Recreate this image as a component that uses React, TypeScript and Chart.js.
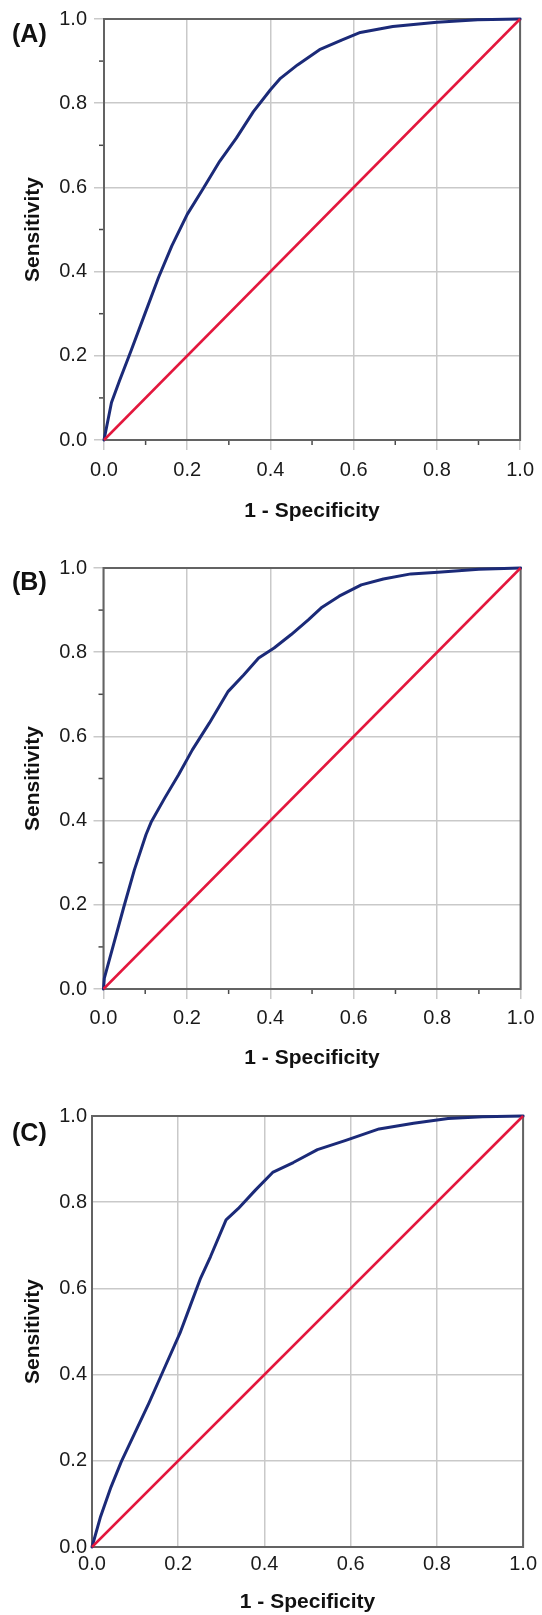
import React, { useEffect, useRef } from "react";
import { Chart, registerables } from "chart.js";

Chart.register(...registerables);

// ---------- Data ----------
const panelLabels = ["(A)", "(B)", "(C)"];
const xAxisTitle = "1 - Specificity";
const yAxisTitle = "Sensitivity";
const tickValues = [0, 0.2, 0.4, 0.6, 0.8, 1.0];
const minorTickValues = [0.1, 0.3, 0.5, 0.7, 0.9];

// chance (reference) line
const referenceX = [0, 1];
const referenceY = [0, 1];

// Panel A ROC curve
const fprA = [0, 0.018, 0.037, 0.065, 0.098, 0.131, 0.163, 0.2, 0.237, 0.278, 0.318, 0.359, 0.4, 0.424, 0.465, 0.518, 0.571, 0.616, 0.694, 0.8, 0.898, 1];
const tprA = [0, 0.089, 0.14, 0.212, 0.299, 0.386, 0.461, 0.536, 0.595, 0.662, 0.717, 0.78, 0.832, 0.859, 0.891, 0.927, 0.95, 0.968, 0.982, 0.992, 0.998, 1];

// Panel B ROC curve
const fprB = [0, 0.002, 0.025, 0.049, 0.074, 0.102, 0.115, 0.147, 0.18, 0.213, 0.254, 0.299, 0.336, 0.372, 0.409, 0.45, 0.491, 0.524, 0.565, 0.618, 0.671, 0.737, 0.802, 0.9, 1];
const tprB = [0, 0.026, 0.109, 0.196, 0.283, 0.367, 0.398, 0.454, 0.509, 0.568, 0.632, 0.707, 0.746, 0.786, 0.81, 0.842, 0.877, 0.907, 0.933, 0.96, 0.974, 0.986, 0.99, 0.997, 1];

// Panel C ROC curve
const fprC = [0, 0.02, 0.044, 0.068, 0.1, 0.132, 0.164, 0.204, 0.228, 0.252, 0.275, 0.311, 0.339, 0.379, 0.419, 0.467, 0.523, 0.587, 0.666, 0.746, 0.826, 0.906, 1];
const tprC = [0, 0.071, 0.139, 0.198, 0.266, 0.334, 0.406, 0.496, 0.56, 0.624, 0.674, 0.759, 0.785, 0.828, 0.869, 0.892, 0.922, 0.943, 0.97, 0.983, 0.994, 0.998, 1];

// ---------- Styles ----------
const FONT = "'Liberation Sans', Arial, Helvetica, sans-serif";
const BLUE = "#1b2a78";
const RED = "#e3173d";
const GRID = "#c9c9c9";
const FRAME = "#636363";
const MINOR = "#4a4a4a";

type PanelCfg = {
  label: string;
  fpr: number[];
  tpr: number[];
  top: number; // canvas top (page px)
  height: number; // canvas height
  left: number; // chart area left
  right: number; // chart area right
  areaTop: number;
  areaBottom: number;
  xTitleY: number;
  yTitleX: number;
  xLabelY: number;
  yLabelRight: number;
  tick: number;
  minor: boolean;
  tagTop: number;
};

const panels: PanelCfg[] = [
  { label: panelLabels[0], fpr: fprA, tpr: tprA, top: 0, height: 530, left: 104, right: 527.5, areaTop: 17.5, areaBottom: 440, xTitleY: 511, yTitleX: 33, xLabelY: 470, yLabelRight: 87, tick: 10, minor: true, tagTop: 21 },
  { label: panelLabels[1], fpr: fprB, tpr: tprB, top: 530, height: 545, left: 103.5, right: 527, areaTop: 568, areaBottom: 989, xTitleY: 1058, yTitleX: 33, xLabelY: 1018.5, yLabelRight: 87, tick: 10, minor: true, tagTop: 569 },
  { label: panelLabels[2], fpr: fprC, tpr: tprC, top: 1075, height: 540, left: 92, right: 525, areaTop: 1116, areaBottom: 1547, xTitleY: 1602, yTitleX: 33, xLabelY: 1564, yLabelRight: 87, tick: 0, minor: false, tagTop: 1120 },
];

const framePlugin = {
  id: "frame",
  beforeDatasetsDraw(chart: any, _args: any, opts: any) {
    const { ctx, chartArea: a } = chart;
    ctx.save();
    if (opts && opts.minor) {
      ctx.strokeStyle = MINOR;
      ctx.lineWidth = 1.5;
      const xs = chart.scales.x;
      const ys = chart.scales.y;
      minorTickValues.forEach((v) => {
        const px = xs.getPixelForValue(v);
        ctx.beginPath();
        ctx.moveTo(px, a.bottom);
        ctx.lineTo(px, a.bottom + 5);
        ctx.stroke();
        const py = ys.getPixelForValue(v);
        ctx.beginPath();
        ctx.moveTo(a.left - 5, py);
        ctx.lineTo(a.left, py);
        ctx.stroke();
      });
    }
    ctx.strokeStyle = FRAME;
    ctx.lineWidth = 2;
    ctx.strokeRect(a.left, a.top, a.right - a.left, a.bottom - a.top);
    ctx.restore();
  },
};

function RocPanel({ cfg }: { cfg: PanelCfg }) {
  const ref = useRef<HTMLCanvasElement>(null);
  useEffect(() => {
    const canvas = ref.current;
    if (!canvas) return;
    const W = 542;
    const tickFontSize = 20;
    const titleFontSize = 21;
    const tickLH = tickFontSize * 1.2;
    const titleLH = titleFontSize * 1.2;
    const xAxisH = cfg.top + cfg.height - cfg.areaBottom;
    const xLabelPad = cfg.xLabelY - cfg.areaBottom - cfg.tick - tickLH / 2;
    const yLabelPad = cfg.left - cfg.tick - cfg.yLabelRight;
    const xTitlePadBottom = cfg.top + cfg.height - cfg.xTitleY - titleLH / 2;
    const yTitlePadTop = cfg.yTitleX - titleLH / 2;
    const tickFont = { family: FONT, size: tickFontSize };
    const titleFont = { family: FONT, size: titleFontSize, weight: "bold" as const };
    const fmt = (v: any) => Number(v).toFixed(1);
    const setTicks = (scale: any) => {
      scale.ticks = tickValues.map((v) => ({ value: v }));
    };
    const gridOpts = {
      color: GRID,
      lineWidth: 1.5,
      drawTicks: cfg.tick > 0,
      tickLength: cfg.tick,
      tickColor: GRID,
      tickWidth: 1.5,
    };

    const chart = new Chart(canvas, {
      type: "scatter",
      data: {
        datasets: [
          {
            label: "Reference",
            data: referenceX.map((x, i) => ({ x, y: referenceY[i] })),
            showLine: true,
            borderColor: RED,
            backgroundColor: RED,
            borderWidth: 2.5,
            pointRadius: 0,
            clip: false,
          },
          {
            label: "ROC",
            data: cfg.fpr.map((x, i) => ({ x, y: cfg.tpr[i] })),
            showLine: true,
            borderColor: BLUE,
            backgroundColor: BLUE,
            borderWidth: 3,
            pointRadius: 0,
            tension: 0,
            borderJoinStyle: "round",
            borderCapStyle: "round",
            clip: false,
          },
        ],
      } as any,
      options: {
        responsive: false,
        animation: false,
        devicePixelRatio: 1,
        layout: {
          padding: {
            left: 0,
            top: cfg.areaTop - cfg.top,
            right: W - cfg.right,
            bottom: 0,
          },
        },
        plugins: {
          legend: { display: false },
          tooltip: { enabled: false },
          frame: { minor: cfg.minor },
        } as any,
        scales: {
          x: {
            type: "linear",
            min: 0,
            max: 1,
            afterBuildTicks: setTicks,
            afterFit: (s: any) => {
              s.height = xAxisH;
            },
            grid: gridOpts,
            border: { display: false },
            ticks: {
              font: tickFont,
              color: "#1a1a1a",
              padding: xLabelPad,
              maxRotation: 0,
              autoSkip: false,
              callback: fmt,
            },
            title: {
              display: true,
              text: xAxisTitle,
              font: titleFont,
              color: "#111111",
              padding: { top: 0, bottom: xTitlePadBottom },
            },
          },
          y: {
            type: "linear",
            min: 0,
            max: 1,
            afterBuildTicks: setTicks,
            afterFit: (s: any) => {
              s.width = cfg.left;
            },
            grid: gridOpts,
            border: { display: false },
            ticks: {
              font: tickFont,
              color: "#1a1a1a",
              padding: yLabelPad,
              autoSkip: false,
              callback: fmt,
            },
            title: {
              display: true,
              text: yAxisTitle,
              font: titleFont,
              color: "#111111",
              padding: { top: yTitlePadTop, bottom: 0 },
            },
          },
        },
      } as any,
      plugins: [framePlugin as any],
    });
    return () => chart.destroy();
  }, [cfg]);

  return (
    <>
      <canvas
        ref={ref}
        width={542}
        height={cfg.height}
        style={{ position: "absolute", left: 0, top: cfg.top, width: 542, height: cfg.height }}
      />
      <div
        style={{
          position: "absolute",
          left: 12,
          top: cfg.tagTop,
          fontFamily: FONT,
          fontWeight: "bold",
          fontSize: 25,
          lineHeight: "25px",
          color: "#111111",
          whiteSpace: "nowrap",
        }}
      >
        {cfg.label}
      </div>
    </>
  );
}

export default function App() {
  return (
    <div
      style={{
        position: "absolute",
        left: 0,
        top: 0,
        width: 542,
        height: 1615,
        overflow: "hidden",
        background: "#ffffff",
      }}
    >
      {panels.map((p) => (
        <RocPanel key={p.label} cfg={p} />
      ))}
    </div>
  );
}
